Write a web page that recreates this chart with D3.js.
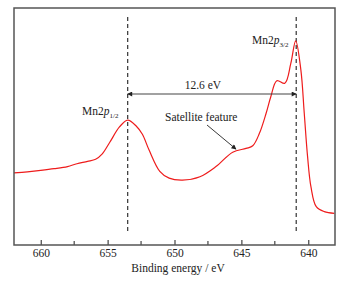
<!DOCTYPE html>
<html>
<head>
<meta charset="utf-8">
<script src="https://cdn.jsdelivr.net/npm/d3@7"></script>
<style>
  body { margin: 0; background: #fff; }
  text { font-family: "Liberation Serif", "DejaVu Serif", serif; fill: #222; }
</style>
</head>
<body>
<div id="chart"></div>
<script>
// spectrum (binding energy in eV, intensity in a.u.)
const energy = [662, 661, 660, 659, 658, 657.3, 656.5, 655.9, 655.4, 654.85, 654.1, 653.5,
  652.85, 652.4, 651.9, 651.1, 650.4, 649.4, 648.1, 646.9, 645.65, 644.65, 644.15,
  643.65, 643.15, 642.8, 642.35, 641.75, 641.3, 640.94, 640.55, 640.3, 640.05,
  639.8, 639.4, 638.8, 638.05];
const intensity = [30.1, 30.6, 31.2, 31.9, 32.8, 34.0, 35.0, 35.9, 38.2, 43.0, 49.7, 52.5,
  49.9, 46.5, 39.8, 30.8, 27.9, 27.1, 28.5, 32.8, 38.9, 40.5, 41.6,
  46.9, 55.4, 62.4, 69.2, 68.1, 76.6, 86.1, 73.7, 55.5, 37,
  24.3, 15.8, 13.7, 13];

const majorTicks = [660, 655, 650, 645, 640];
const minorTicks = [657.5, 652.5, 647.5, 642.5];
const peakEnergies = [653.5, 640.9];
const splitLabel = '12.6 eV';
const satellite = { energy: 645.4, intensity: 40.2, label: 'Satellite feature' };

const width = 345, height = 282;
const margin = { left: 14, right: 10, top: 8, bottom: 37 };

const svg = d3.select('#chart').append('svg')
  .attr('width', width)
  .attr('height', height);

const x = d3.scaleLinear().domain([662, 638]).range([margin.left, width - margin.right]);
const y = d3.scaleLinear().domain([0, 100]).range([height - margin.bottom - 1, margin.top]);

const plotBottom = height - margin.bottom;

// arrow markers
const defs = svg.append('defs');
defs.append('marker')
  .attr('id', 'head')
  .attr('viewBox', '0 0 10 10')
  .attr('refX', 9).attr('refY', 5)
  .attr('markerWidth', 7).attr('markerHeight', 5)
  .attr('markerUnits', 'userSpaceOnUse')
  .attr('orient', 'auto-start-reverse')
  .append('path')
  .attr('d', 'M0,0 L10,5 L0,10 z')
  .attr('fill', '#222');

// dashed peak lines
svg.selectAll('.peakline')
  .data(peakEnergies)
  .enter()
  .append('line')
  .attr('x1', d => x(d)).attr('x2', d => x(d))
  .attr('y1', 17).attr('y2', 234)
  .attr('stroke', '#333')
  .attr('stroke-width', 1.2)
  .attr('stroke-dasharray', '4,3');

// spectrum line
const line = d3.line()
  .x((d, i) => x(energy[i]))
  .y(d => y(d))
  .curve(d3.curveCatmullRom.alpha(0.5));

svg.append('path')
  .datum(intensity)
  .attr('d', line)
  .attr('fill', 'none')
  .attr('stroke', '#ee1c1c')
  .attr('stroke-width', 1.2);

// spin-orbit split arrow
svg.append('line')
  .attr('x1', x(peakEnergies[0])).attr('x2', x(peakEnergies[1]))
  .attr('y1', 94).attr('y2', 94)
  .attr('stroke', '#444')
  .attr('stroke-width', 1.2)
  .attr('marker-start', 'url(#head)')
  .attr('marker-end', 'url(#head)');

svg.append('text')
  .attr('x', (x(peakEnergies[0]) + x(peakEnergies[1])) / 2 - 9)
  .attr('y', 89)
  .attr('text-anchor', 'middle')
  .attr('font-size', 11.5)
  .text(splitLabel);

// peak labels
function peakLabel(px, py, sub) {
  const t = svg.append('text').attr('x', px).attr('y', py).attr('font-size', 11.5);
  t.append('tspan').text('Mn2');
  t.append('tspan').attr('font-style', 'italic').text('p');
  t.append('tspan').attr('font-size', 7).attr('dy', 3).text(sub);
}
peakLabel(82, 115, '1/2');
peakLabel(252, 44, '3/2');

// satellite annotation
svg.append('text')
  .attr('x', 165).attr('y', 121)
  .attr('font-size', 11.5)
  .text(satellite.label);

svg.append('line')
  .attr('x1', 207).attr('y1', 125)
  .attr('x2', x(satellite.energy)).attr('y2', y(satellite.intensity))
  .attr('stroke', '#222')
  .attr('stroke-width', 0.9)
  .attr('marker-end', 'url(#head)');

// axis with inward ticks
const xAxis = d3.axisBottom(x)
  .tickValues(majorTicks)
  .tickSize(-5)
  .tickPadding(4)
  .tickFormat(d3.format('d'));

const gx = svg.append('g')
  .attr('transform', 'translate(0,' + plotBottom + ')')
  .call(xAxis);
gx.select('.domain').remove();
gx.selectAll('line').attr('stroke', '#444').attr('stroke-width', 1.2);
gx.selectAll('text').attr('font-size', 11.5).attr('font-family', '"Liberation Serif", serif').attr('fill', '#222');

svg.selectAll('.minor')
  .data(minorTicks)
  .enter()
  .append('line')
  .attr('x1', d => x(d)).attr('x2', d => x(d))
  .attr('y1', plotBottom).attr('y2', plotBottom - 4)
  .attr('stroke', '#444')
  .attr('stroke-width', 1.2);

// frame
svg.append('rect')
  .attr('x', margin.left).attr('y', margin.top)
  .attr('width', width - margin.left - margin.right)
  .attr('height', plotBottom - margin.top)
  .attr('fill', 'none')
  .attr('stroke', '#555')
  .attr('stroke-width', 1.5);

svg.append('text')
  .attr('x', 178).attr('y', 272)
  .attr('text-anchor', 'middle')
  .attr('font-size', 11.5)
  .text('Binding energy / eV');
</script>
</body>
</html>
